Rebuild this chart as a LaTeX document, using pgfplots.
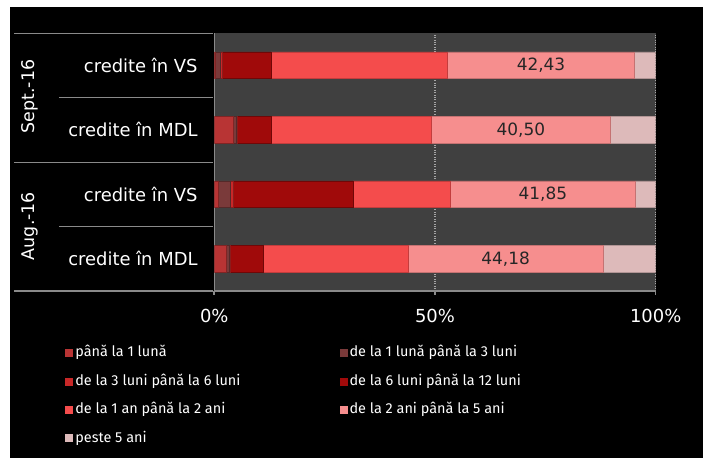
\documentclass[border=0pt]{standalone}
\usepackage{fontspec}
\setmainfont{Fira Sans}
\newfontfamily\dvs{DejaVu Sans}
\usepackage{pgfplots}
\usepackage{pgfplotstable}
\pgfplotsset{compat=1.18}
\definecolor{darkbg}{HTML}{404040}
\definecolor{linegray}{HTML}{8A8A8A}
\definecolor{c1}{HTML}{B83434}
\definecolor{c2}{HTML}{7A3A3A}
\definecolor{c3}{HTML}{C82828}
\definecolor{c4}{HTML}{A00A0A}
\definecolor{c5}{HTML}{F44C4C}
\definecolor{c6}{HTML}{F68E8E}
\definecolor{c7}{HTML}{DDBABA}
% y: 0 Aug MDL, 1 Aug VS, 2 Sept MDL, 3 Sept VS
\pgfplotstableread{
y s1 s2 s3 s4 s5 s6 s7
0 2.65 0.75 0.2 7.4 32.9 44.18 11.92
1 0.8 2.8 0.6 27.2 22.1 41.85 4.65
2 4.2 0.7 0.3 7.8 36.2 40.50 10.3
3 0.3 1.0 0.6 10.9 40.0 42.43 4.77
}\data
\begin{document}
\begin{tikzpicture}[x=1bp,y=1bp]
\useasboundingbox (0,0) rectangle (706,466);
\fill[white] (0,0) rectangle (706,466);
\fill[black] (10,8) rectangle (703,459);
% left table lines
\draw[linegray, line width=1.3bp] (14,432.7) -- (213.3,432.7);
\draw[linegray, line width=1.3bp] (59,368.3) -- (213.3,368.3);
\draw[linegray, line width=1.3bp] (14,303.7) -- (213.3,303.7);
\draw[linegray, line width=1.3bp] (59,239.3) -- (213.3,239.3);
\draw[linegray, line width=1.3bp] (14,175) -- (213.3,175);
\draw[linegray, line width=1.3bp] (213.3,175) -- (213.3,171);
\node[white, rotate=90, font=\dvs\fontsize{17.5}{20}\selectfont] at (29.5,369.5) {Sept.-16};
\node[white, rotate=90, font=\dvs\fontsize{17.5}{20}\selectfont] at (29.5,240) {Aug.-16};
\begin{axis}[
  at={(214.3bp,175bp)}, anchor=south west,
  scale only axis, width=441.4bp, height=258bp,
  xbar stacked, bar width=26.6bp,
  xmin=0, xmax=100, ymin=-0.5, ymax=3.5,
  axis background/.style={fill=darkbg},
  axis x line*=bottom, axis y line*=left,
  axis line style={draw=linegray, line width=1.3bp},
  xtick={0,50,100}, xticklabels={0\%,50\%,100\%},
  tick align=outside, major tick length=4bp,
  x tick style={draw=linegray, line width=1.3bp},
  ytick={0,1,2,3},
  yticklabels={credite în MDL, credite în VS, credite în MDL, credite în VS},
  y tick style={draw=none},
  tick label style={text=white},
  xticklabel style={font=\dvs\fontsize{18}{21}\selectfont, yshift=-11bp},
  yticklabel style={font=\dvs\fontsize{18}{21}\selectfont, anchor=east, inner sep=0pt, xshift=-12.5bp},
  xmajorgrids, major grid style={dotted, draw=gray!70, line width=1.3bp},
  legend columns=2,
  legend style={at={(-0.338,-0.212)}, anchor=north west, draw=none, fill=none,
    text=white, font=\fontsize{14.5}{16}\selectfont, inner sep=0pt,
    row sep=13.9bp,
    cells={anchor=west, text height=9bp, text depth=3bp, inner ysep=0pt},
    /tikz/column 2/.style={column sep=97bp}},
  legend image code/.code={\path[#1,draw=none] (0bp,-4bp) rectangle (8bp,4bp);},
  every axis plot/.append style={line width=0.4bp},
]
\addplot[fill=c1, draw=c1!70!black] table[x=s1, y=y] {\data};
\addplot[fill=c2, draw=c2!70!black] table[x=s2, y=y] {\data};
\addplot[fill=c3, draw=c3!70!black] table[x=s3, y=y] {\data};
\addplot[fill=c4, draw=c4!70!black] table[x=s4, y=y] {\data};
\addplot[fill=c5, draw=c5!80!black] table[x=s5, y=y] {\data};
\addplot[fill=c6, draw=c6!80!black, nodes near coords, point meta=explicit,
  nodes near coords style={text=black!85, font=\dvs\fontsize{17}{20}\selectfont,
  /pgf/number format/.cd, fixed, fixed zerofill, precision=2, use comma, assume math mode=true}]
  table[x=s6, y=y, meta=s6] {\data};
\addplot[fill=c7, draw=c7!80!black] table[x=s7, y=y] {\data};
\legend{până la 1 lună, de la 1 lună până la 3 luni, de la 3 luni până la 6 luni, de la 6 luni până la 12 luni, de la 1 an până la 2 ani, de la 2 ani până la 5 ani, peste 5 ani}
\end{axis}
\end{tikzpicture}
\end{document}
